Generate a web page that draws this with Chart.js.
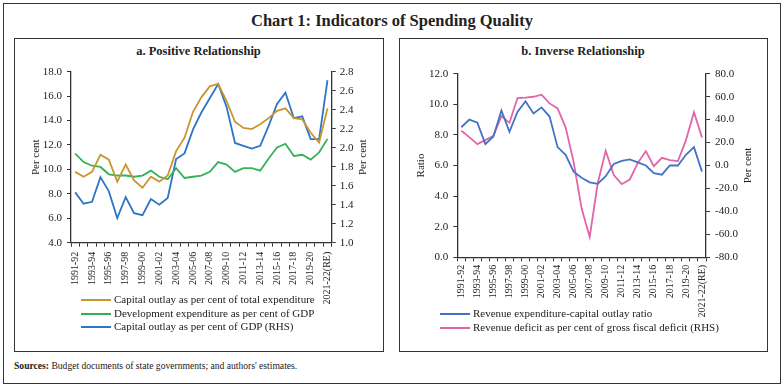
<!DOCTYPE html>
<html>
<head>
<meta charset="utf-8">
<script src="https://cdn.jsdelivr.net/npm/chart.js@4.4.0/dist/chart.umd.min.js"></script>
<style>
  body { margin: 0; background: #fff; font-family: 'Liberation Serif', serif; color: #222; }
  #frame { position: absolute; left: 3px; top: 3px; width: 776px; height: 379px; border: 1px solid #333; }
  .panel { position: absolute; top: 38px; height: 312px; border: 1px solid #333; }
  .box { position: absolute; }
  .ttl { position: absolute; width: 100%; text-align: center; font-weight: bold; }
  .leg { position: absolute; font-size: 11px; line-height: 13.5px; white-space: nowrap; }
  .leg div { position: relative; padding-left: 33px; }
  .leg span { position: absolute; left: 0; top: 6px; width: 30px; height: 2px; }
</style>
</head>
<body>
<div id="frame"></div>
<div class="ttl" style="top:11px;left:0;font-size:16.5px;">Chart 1: Indicators of Spending Quality</div>

<div class="panel" style="left:14px;width:368px;"></div>
<div class="ttl" style="top:44px;left:14px;width:369px;font-size:12.5px;">a. Positive Relationship</div>
<div class="box" style="left:15px;top:40px;width:367px;height:311px;"><canvas id="chartA"></canvas></div>
<div class="leg" style="left:81px;top:293px;">
  <div><span style="background:#C8962E"></span>Capital outlay as per cent of total expenditure</div>
  <div><span style="background:#33B25A"></span>Development expenditure as per cent of GDP</div>
  <div><span style="background:#2E75C5"></span>Capital outlay as per cent of GDP (RHS)</div>
</div>

<div class="panel" style="left:399px;width:367px;"></div>
<div class="ttl" style="top:44px;left:399px;width:368px;font-size:12.5px;">b. Inverse Relationship</div>
<div class="box" style="left:400px;top:40px;width:366px;height:311px;"><canvas id="chartB"></canvas></div>
<div class="leg" style="left:440px;top:307px;">
  <div><span style="background:#4472C4"></span>Revenue expenditure-capital outlay ratio</div>
  <div><span style="background:#E066A8"></span>Revenue deficit as per cent of gross fiscal deficit (RHS)</div>
</div>

<div style="position:absolute;left:14px;top:360px;font-size:9.6px;"><b>Sources:</b> Budget documents of state governments; and authors' estimates.</div>

<script>
const years = ['1991-92','1992-93','1993-94','1994-95','1995-96','1996-97','1997-98','1998-99','1999-00','2000-01',
  '2001-02','2002-03','2003-04','2004-05','2005-06','2006-07','2007-08','2008-09','2009-10','2010-11',
  '2011-12','2012-13','2013-14','2014-15','2015-16','2016-17','2017-18','2018-19','2019-20','2020-21','2021-22(RE)']

const capOutlayTotExp = [9.8, 9.4, 9.8, 11.2, 10.8, 9.0, 10.4, 9.1, 8.5, 9.4, 9.0, 9.5, 11.5, 12.6, 14.7, 15.9,
  16.8, 17.0, 15.6, 13.9, 13.4, 13.3, 13.7, 14.2, 14.8, 15.0, 14.2, 14.1, 13.0, 12.2, 15.0]
const devExpGdp = [11.3, 10.6, 10.3, 10.2, 9.6, 9.5, 9.5, 9.4, 9.5, 9.9, 9.4, 9.2, 10.1, 9.3, 9.4, 9.5,
  9.8, 10.6, 10.4, 9.8, 10.1, 10.1, 9.9, 10.9, 11.8, 12.1, 11.1, 11.2, 10.8, 11.4, 12.5]
const capOutlayGdp = [1.53, 1.41, 1.43, 1.69, 1.54, 1.26, 1.48, 1.31, 1.29, 1.46, 1.40, 1.47, 1.88, 1.94, 2.19, 2.37,
  2.52, 2.67, 2.43, 2.05, 2.02, 1.99, 2.02, 2.23, 2.46, 2.58, 2.31, 2.33, 2.09, 2.09, 2.71]

const revCapRatio = [8.5, 9.0, 8.8, 7.4, 7.9, 9.6, 8.2, 9.5, 10.2, 9.4, 9.8, 9.2, 7.2, 6.7, 5.6, 5.2,
  4.9, 4.8, 5.3, 6.1, 6.3, 6.4, 6.2, 6.0, 5.5, 5.4, 6.0, 6.0, 6.7, 7.2, 5.6]
const revDefGfd = [30.3, 24.7, 18.6, 22.1, 25.9, 43.1, 37.2, 58.8, 59.1, 59.9, 61.7, 54.1, 49.7, 33.2, 3.2, -37.5,
  -62.3, -15.7, 12.8, -8.4, -16.3, -12.2, 2.3, 12.5, -0.6, 6.7, 4.7, 3.8, 22.1, 46.5, 24.4]

Chart.defaults.font.family = "'Liberation Serif', serif"
Chart.defaults.font.size = 11
Chart.defaults.color = '#222'
Chart.defaults.animation = false

const axisCol = '#333'

// axis titles drawn by hand so both read bottom to top
function sideTitles(left, right, xl, xr) {
  return {
    id: 'sideTitles',
    afterDraw(chart) {
      const ctx = chart.ctx
      const a = chart.chartArea
      const yc = (a.top + a.bottom) / 2
      ctx.save()
      ctx.font = "11px 'Liberation Serif', serif"
      ctx.fillStyle = '#222'
      ctx.textAlign = 'center'
      ctx.textBaseline = 'middle'
      ;[[left, xl], [right, xr]].forEach(([t, x]) => {
        ctx.save()
        ctx.translate(x, yc)
        ctx.rotate(-Math.PI / 2)
        ctx.fillText(t, 0, 0)
        ctx.restore()
      })
      ctx.restore()
    }
  }
}

function xAxis(height, pad) {
  return {
    type: 'category',
    offset: true,
    afterFit: s => { s.height = height },
    border: { color: axisCol, width: 1.3 },
    grid: { offset: true, drawOnChartArea: false, color: axisCol, tickLength: 4, lineWidth: 1 },
    ticks: {
      autoSkip: false, maxRotation: 90, minRotation: 90, padding: pad,
      font: { size: 10 },
      callback: function(v, i) { return i % 2 === 0 ? this.getLabelForValue(v) : '' }
    }
  }
}

function yAxis(pos, min, max, step, width, pad) {
  return {
    position: pos, min, max,
    afterFit: s => { s.width = width },
    border: { color: axisCol, width: 1.3 },
    grid: { drawOnChartArea: false, color: axisCol, tickLength: 4 },
    ticks: { stepSize: step, padding: pad, callback: v => v.toFixed(1) }
  }
}

function line(label, data, color, axis) {
  return { label, data, borderColor: color, backgroundColor: color, yAxisID: axis,
    borderWidth: 1.8, pointRadius: 0, tension: 0 }
}

new Chart(document.getElementById('chartA'), {
  type: 'line',
  data: {
    labels: years,
    datasets: [
      line('Capital outlay as per cent of total expenditure', capOutlayTotExp, '#C8962E', 'y'),
      line('Development expenditure as per cent of GDP', devExpGdp, '#33B25A', 'y'),
      line('Capital outlay as per cent of GDP (RHS)', capOutlayGdp, '#2E75C5', 'y1')
    ]
  },
  options: {
    responsive: true, maintainAspectRatio: false,
    layout: { padding: { top: 31.7, left: 0, right: 0, bottom: 0 } },
    plugins: { legend: { display: false }, tooltip: { enabled: false } },
    scales: {
      x: xAxis(108.3, 5),
      y: yAxis('left', 4, 18, 2, 56, 5),
      y1: yAxis('right', 1.0, 2.8, 0.2, 50.3, 4)
    }
  },
  plugins: [sideTitles('Per cent', 'Per cent', 21, 347.7)]
})

new Chart(document.getElementById('chartB'), {
  type: 'line',
  data: {
    labels: years,
    datasets: [
      line('Revenue expenditure-capital outlay ratio', revCapRatio, '#4472C4', 'y'),
      line('Revenue deficit as per cent of gross fiscal deficit (RHS)', revDefGfd, '#E066A8', 'y1')
    ]
  },
  options: {
    responsive: true, maintainAspectRatio: false,
    layout: { padding: { top: 33.7, left: 0, right: 0, bottom: 0 } },
    plugins: { legend: { display: false }, tooltip: { enabled: false } },
    scales: {
      x: xAxis(93.7, 3.5),
      y: yAxis('left', 0, 12, 2, 57.3, 5),
      y1: yAxis('right', -80, 80, 20, 60, 5)
    }
  },
  plugins: [sideTitles('Ratio', 'Per cent', 20.7, 347.7)]
})
</script>
</body>
</html>
